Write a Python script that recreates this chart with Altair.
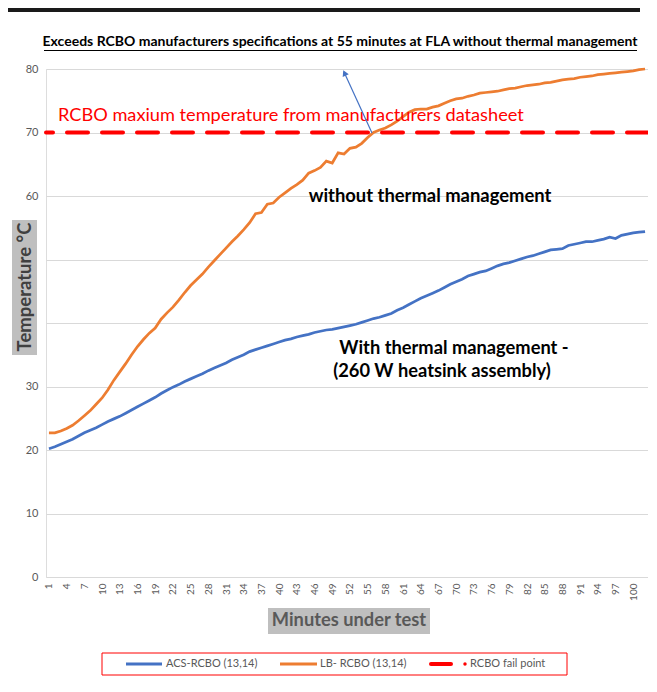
import altair as alt
import pandas as pd

# ---------------- data ----------------
minutes = list(range(1, 103))
acs_rcbo = [20.2, 20.5, 20.9, 21.3, 21.7, 22.2, 22.7, 23.1, 23.5, 24.0,
            24.5, 24.9, 25.3, 25.8, 26.3, 26.8, 27.3, 27.8, 28.3, 28.9,
            29.4, 29.9, 30.3, 30.8, 31.2, 31.6, 32.0, 32.5, 32.9, 33.3,
            33.7, 34.2, 34.6, 35.0, 35.5, 35.8, 36.1, 36.4, 36.7, 37.0,
            37.3, 37.5, 37.8, 38.0, 38.2, 38.5, 38.7, 38.9, 39.0, 39.2,
            39.4, 39.6, 39.8, 40.1, 40.4, 40.7, 40.9, 41.2, 41.5, 42.0,
            42.4, 42.9, 43.4, 43.9, 44.3, 44.7, 45.1, 45.6, 46.1, 46.5,
            46.9, 47.4, 47.7, 48.0, 48.2, 48.6, 49.0, 49.3, 49.5, 49.8,
            50.1, 50.4, 50.6, 50.9, 51.2, 51.5, 51.6, 51.7, 52.2, 52.4,
            52.6, 52.8, 52.8, 53.0, 53.2, 53.5, 53.3, 53.8, 54.0, 54.2,
            54.3, 54.4]
lb_rcbo = [22.7, 22.7, 23.0, 23.4, 23.9, 24.6, 25.4, 26.2, 27.2, 28.2,
           29.5, 31.0, 32.3, 33.6, 35.0, 36.3, 37.4, 38.4, 39.2, 40.6,
           41.6, 42.5, 43.6, 44.8, 45.9, 46.8, 47.7, 48.8, 49.8, 50.8,
           51.8, 52.8, 53.7, 54.7, 55.8, 57.2, 57.4, 58.7, 58.9, 59.8,
           60.5, 61.2, 61.8, 62.5, 63.6, 64.0, 64.5, 65.5, 65.2, 66.8,
           66.6, 67.5, 67.7, 68.3, 69.2, 70.0, 70.4, 70.7, 71.2, 71.8,
           72.5, 73.2, 73.6, 73.7, 73.7, 74.0, 74.2, 74.6, 75.0, 75.3,
           75.4, 75.7, 75.9, 76.2, 76.3, 76.4, 76.5, 76.7, 76.9, 77.0,
           77.2, 77.4, 77.5, 77.6, 77.8, 77.9, 78.1, 78.3, 78.4, 78.5,
           78.7, 78.8, 78.9, 79.1, 79.2, 79.3, 79.4, 79.5, 79.6, 79.7,
           79.9, 80.0]
fail_temp = [70]
series_names = ["ACS-RCBO (13,14)", "LB- RCBO (13,14)", "RCBO fail point"]
series_colors = ["#4472C4", "#ED7D31", "#FF0000"]
x_tick_labels = list(range(1, 101, 3))
y_ticks = [0, 10, 20, 30, 40, 50, 60, 70, 80]

title_text = "Exceeds RCBO manufacturers specifications at 55 minutes at FLA without thermal management"
limit_text = "RCBO maxium temperature from manufacturers datasheet"
note_without = "without thermal management"
note_with = ["With thermal management -", "(260 W heatsink assembly)"]
y_title = "Temperature °C"
x_title = "Minutes under test"

# ---------------- chart ----------------
FONT = "Lato"
W, H = 602, 508

df = pd.DataFrame({
    "minute": minutes * 2,
    "temp": acs_rcbo + lb_rcbo,
    "series": [series_names[0]] * len(minutes) + [series_names[1]] * len(minutes),
})

xenc = alt.X("minute:O",
             scale=alt.Scale(type="point", padding=0.5),
             axis=alt.Axis(values=x_tick_labels, labelAngle=270, labelFontSize=10,
                           labelColor="#595959", labelFont=FONT, ticks=False,
                           domain=False, grid=False, title=None, labelPadding=6))
yenc = alt.Y("temp:Q",
             scale=alt.Scale(domain=[0, 80], nice=False),
             axis=alt.Axis(values=y_ticks, labelFontSize=11, labelColor="#595959",
                           labelFont=FONT, ticks=False, domain=False,
                           gridColor="#D9D9D9", gridWidth=1, title=None,
                           labelPadding=8,
                           labelExpr="(datum.value == 40 || datum.value == 50) ? '' : datum.label"))

lines = alt.Chart(df).mark_line(strokeWidth=2.75).encode(
    x=xenc, y=yenc,
    color=alt.Color("series:N",
                    scale=alt.Scale(domain=series_names[:2], range=series_colors[:2]),
                    legend=None),
)

fail_rule = alt.Chart(pd.DataFrame({"temp": fail_temp})).mark_rule(
    color=series_colors[2], strokeWidth=4, strokeDash=[21, 14], strokeCap="round"
).encode(y=yenc)

one = pd.DataFrame({"k": [0]})


def txt(text, x, y, size=17, color="black", weight="bold", align="center", angle=0):
    kw = dict(text=text, fontSize=size, color=color, fontWeight=weight, align=align,
              baseline="middle", font=FONT)
    if angle:
        kw["angle"] = angle
    return alt.Chart(one).mark_text(**kw).encode(x=alt.value(x), y=alt.value(y))


def rect(x, x2, y, y2, fill, stroke=None, sw=0):
    kw = dict(fill=fill)
    if stroke:
        kw.update(stroke=stroke, strokeWidth=sw)
    return alt.Chart(one).mark_rect(**kw).encode(
        x=alt.value(x), x2=alt.value(x2), y=alt.value(y), y2=alt.value(y2))


def seg(x, x2, y, y2, color, sw, dash=None, cap="butt"):
    kw = dict(color=color, strokeWidth=sw, strokeCap=cap)
    if dash:
        kw["strokeDash"] = dash
    return alt.Chart(one).mark_rule(**kw).encode(
        x=alt.value(x), x2=alt.value(x2), y=alt.value(y), y2=alt.value(y2))


# title with underline
title = txt(title_text, 294, -27, size=14, color="black", weight="bold")
underline = seg(-2, 591, -18.5, -18.5, "black", 1)

# annotations
limit_lbl = txt(limit_text, 12, 47, size=18.2, color="#FF0000", weight="normal", align="left")
without_lbl = txt(note_without, 384, 127, size=18.4)
with_lbl1 = txt(note_with[0], 408, 280, size=18.3)
with_lbl2 = txt(note_with[1], 396, 303, size=18.3)

arrow = seg(326, 298, 64, 3, "#4472C4", 1.2)
arrow_head = alt.Chart(one).mark_point(shape="triangle-up", filled=True, opacity=1,
                                       color="#4472C4", angle=335, size=45).encode(
    x=alt.value(298.5), y=alt.value(4))

# axis titles with grey boxes
ybox = rect(-34, -9, 151, 286, "#BFBFBF")
ytitle = txt(y_title, -21, 218, size=18.5, color="#404040", angle=270)
xbox = rect(222, 384, 539, 565, "#BFBFBF")
xtitle = txt(x_title, 303, 552, size=18.3, color="#595959")

# legend
leg_box = rect(56, 521, 584, 606, "white", stroke="#FF0000", sw=1)
leg_y = 595
leg_items = [
    seg(80, 116, leg_y, leg_y, series_colors[0], 3),
    txt(series_names[0], 120, leg_y, size=11, color="#595959", weight="normal", align="left"),
    seg(234, 271, leg_y, leg_y, series_colors[1], 3),
    txt(series_names[1], 274, leg_y, size=11, color="#595959", weight="normal", align="left"),
    seg(385, 405, leg_y, leg_y, series_colors[2], 4, cap="round"),
    alt.Chart(one).mark_point(shape="circle", filled=True, opacity=1, color=series_colors[2],
                              size=12).encode(x=alt.value(419), y=alt.value(leg_y)),
    txt(series_names[2], 424, leg_y, size=11, color="#595959", weight="normal", align="left"),
]

# frame decorations (screenshot border)
top_bar = rect(-46, 594, -61, -57, "#1A1A1A")
left_black = seg(-45.5, -45.5, -61, 615, "#1A1A1A", 2)
left_blue = seg(-43, -43, -46, 615, "#4472C4", 1)

chart = alt.layer(
    top_bar, left_black, left_blue,
    lines, fail_rule,
    title, underline, limit_lbl, without_lbl, with_lbl1, with_lbl2,
    arrow, arrow_head,
    ybox, ytitle, xbox, xtitle,
    leg_box, *leg_items,
).properties(
    width=W, height=H,
    padding={"left": 38, "top": 61, "right": 0, "bottom": 107},
    autosize=alt.AutoSizeParams(type="none"),
).configure_view(strokeWidth=0).configure(background="white")

chart.save("out.html", embed_options={"renderer": "svg", "actions": False})
